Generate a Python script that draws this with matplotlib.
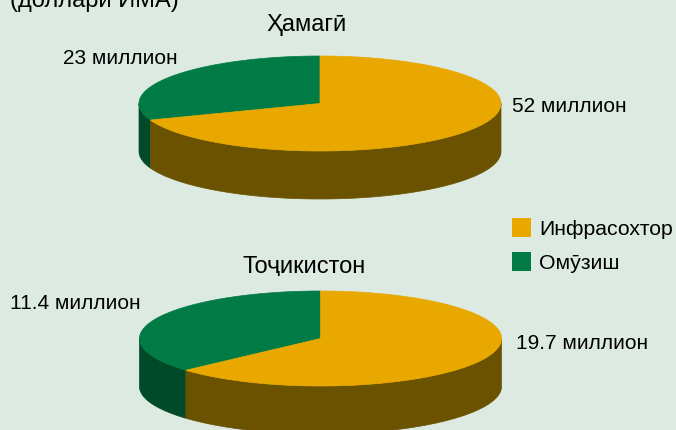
import numpy as np
import matplotlib
matplotlib.use("Agg")
import matplotlib.pyplot as plt
from matplotlib.patches import Polygon, Rectangle

plt.rcParams['font.family'] = ['Liberation Sans', 'DejaVu Sans']

# Data
series = ["Инфрасохтор", "Омӯзиш"]
pie_titles = ["Ҳамагӣ", "Тоҷикистон"]
infra_vals = [52, 19.7]
edu_vals = [23, 11.4]
infra_labels = ["52 миллион", "19.7 миллион"]
edu_labels = ["23 миллион", "11.4 миллион"]
header = "(доллари ИМА)"

colors_top = {"Инфрасохтор": "#E8A800", "Омӯзиш": "#007B46"}
colors_side = {"Инфрасохтор": "#6B5200", "Омӯзиш": "#004A2A"}
bg = "#DCEAE2"

W, H = 676, 430
fig = plt.figure(figsize=(W / 100, H / 100), dpi=100, facecolor=bg)
ax = fig.add_axes([0, 0, 1, 1])
ax.set_xlim(0, W)
ax.set_ylim(H, 0)
ax.axis('off')
ax.set_facecolor(bg)

# layout of the two pies (pixel units)
centers = [(320, 103.5), (320.5, 338.5)]
rx, ry, depth = 181, 47.5, 48


def pt(cx, cy, t):
    r = np.radians(t)
    return cx + rx * np.cos(r), cy - ry * np.sin(r)


def draw_pie(cx, cy, vals):
    total = sum(vals)
    # green (edu) starts at 90 deg counterclockwise, infra follows
    spans = []
    start = 90.0
    for name, v in zip(["Омӯзиш", "Инфрасохтор"], vals):
        ext = v / total * 360.0
        spans.append((name, start, start + ext))
        start += ext
    # sides (front half: 180..360)
    for name, a0, a1 in spans:
        for off in (0, 360):
            lo = max(a0, 180 + off)
            hi = min(a1, 360 + off)
            if hi > lo:
                ts = np.linspace(lo, hi, 200)
                xs, ys = pt(cx, cy, ts)
                poly = np.vstack([np.column_stack([xs, ys]),
                                  np.column_stack([xs[::-1], ys[::-1] + depth])])
                ax.add_patch(Polygon(poly, closed=True, facecolor=colors_side[name],
                                     edgecolor=colors_side[name], lw=0.5))
    # tops
    for name, a0, a1 in spans:
        ts = np.linspace(a0, a1, 300)
        xs, ys = pt(cx, cy, ts)
        poly = np.vstack([[cx, cy], np.column_stack([xs, ys])])
        ax.add_patch(Polygon(poly, closed=True, facecolor=colors_top[name],
                             edgecolor=colors_top[name], lw=0.5))


draw_pie(*centers[0], [edu_vals[0], infra_vals[0]])
draw_pie(*centers[1], [edu_vals[1], infra_vals[1]])

fs = 15
fs_t = 17
ax.text(10, 7, header, fontsize=fs_t, ha='left', va='baseline', color='black')
ax.text(307, 31.5, pie_titles[0], fontsize=fs_t, ha='center', va='baseline')
ax.text(304.5, 273, pie_titles[1], fontsize=fs_t, ha='center', va='baseline')
ax.text(120, 64.5, edu_labels[0], fontsize=fs, ha='center', va='baseline')
ax.text(512, 112.5, infra_labels[0], fontsize=fs, ha='left', va='baseline')
ax.text(10, 309, edu_labels[1], fontsize=fs, ha='left', va='baseline')
ax.text(516, 349, infra_labels[1], fontsize=fs, ha='left', va='baseline')

# legend
for i, name in enumerate(series):
    y = 218 + i * 34
    ax.add_patch(Rectangle((512, y), 19, 18.5, facecolor=colors_top[name], edgecolor='none'))
    ax.text(539.5, y + 17, name, fontsize=15.3, ha='left', va='baseline')

fig.savefig("out.png", dpi=100, facecolor=bg)
